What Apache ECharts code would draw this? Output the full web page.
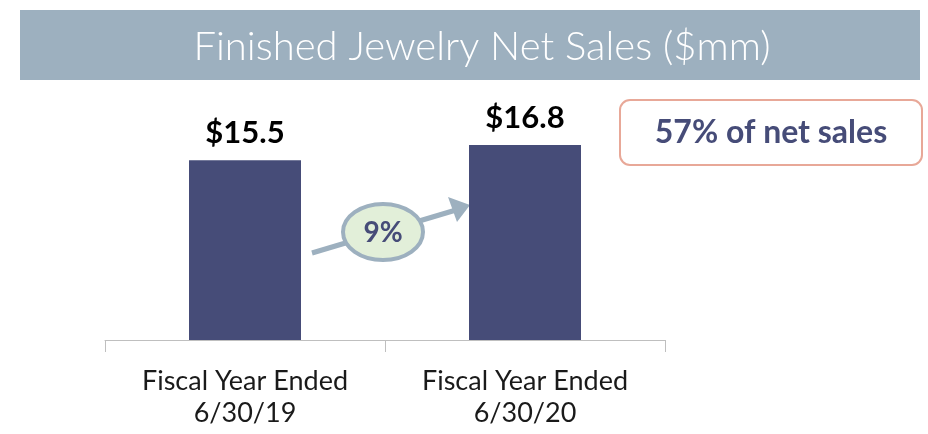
<!DOCTYPE html>
<html>
<head>
<meta charset="utf-8">
<script src="https://cdn.jsdelivr.net/npm/echarts@6/dist/echarts.min.js"></script>
<style>
  html, body { margin: 0; padding: 0; background: #fff; }
  #main { width: 928px; height: 434px; }
</style>
</head>
<body>
<div id="main"></div>
<script>
// data
const categories = ['Fiscal Year Ended\n6/30/19', 'Fiscal Year Ended\n6/30/20'];
const netSales = [15.5, 16.8];
const growthLabel = '9%';
const shareLabel = '57% of net sales';
const titleText = 'Finished Jewelry Net Sales ($mm)';

const FONT = 'Lato, "Open Sans", sans-serif';
const NAVY = '#464C78';
const STEEL = '#9DB0BF';

const chart = echarts.init(document.getElementById('main'));

const option = {
  backgroundColor: '#fff',
  animation: false,
  grid: { left: 105, right: 263, top: 108, bottom: 94 },
  xAxis: {
    type: 'category',
    data: categories,
    axisLine: { lineStyle: { color: '#BFBFBF', width: 1 } },
    axisTick: { show: true, alignWithLabel: false, length: 12, lineStyle: { color: '#BFBFBF' } },
    axisLabel: {
      color: '#1a1a1a',
      fontFamily: FONT,
      fontSize: 27,
      lineHeight: 32,
      margin: 25
    }
  },
  yAxis: {
    type: 'value',
    min: 0,
    max: 20,
    show: false
  },
  series: [{
    type: 'bar',
    data: netSales,
    barWidth: '40%',
    itemStyle: { color: NAVY },
    label: {
      show: true,
      position: 'top',
      distance: 12,
      formatter: p => '$' + p.value.toFixed(1),
      color: '#000',
      fontFamily: FONT,
      fontWeight: 'bold',
      fontSize: 31
    }
  }],
  graphic: [
    // title banner
    {
      type: 'rect',
      shape: { x: 20, y: 10, width: 900, height: 70 },
      style: { fill: STEEL }
    },
    {
      type: 'text',
      x: 482, y: 47,
      style: {
        text: titleText,
        fill: '#fff',
        font: '300 40px ' + FONT,
        align: 'center',
        verticalAlign: 'middle'
      }
    },
    // growth arrow
    {
      type: 'line',
      shape: { x1: 312, y1: 253, x2: 456, y2: 210 },
      style: { stroke: STEEL, lineWidth: 5 }
    },
    {
      type: 'polygon',
      shape: { points: [[470, 205], [448, 197], [457, 222]] },
      style: { fill: STEEL }
    },
    {
      type: 'ellipse',
      shape: { cx: 383, cy: 232, rx: 40, ry: 28 },
      style: { fill: '#E2EFD9', stroke: STEEL, lineWidth: 4 }
    },
    {
      type: 'text',
      x: 383, y: 233,
      style: {
        text: growthLabel,
        fill: NAVY,
        font: 'bold 28px ' + FONT,
        align: 'center',
        verticalAlign: 'middle'
      }
    },
    // share box
    {
      type: 'rect',
      shape: { x: 620, y: 100, width: 302, height: 65, r: 10 },
      style: { fill: '#fff', stroke: '#E8A898', lineWidth: 2 }
    },
    {
      type: 'text',
      x: 771, y: 133,
      style: {
        text: shareLabel,
        fill: NAVY,
        font: 'bold 32px ' + FONT,
        align: 'center',
        verticalAlign: 'middle'
      }
    }
  ]
};

chart.setOption(option);
window.addEventListener('resize', () => chart.resize());
</script>
</body>
</html>
